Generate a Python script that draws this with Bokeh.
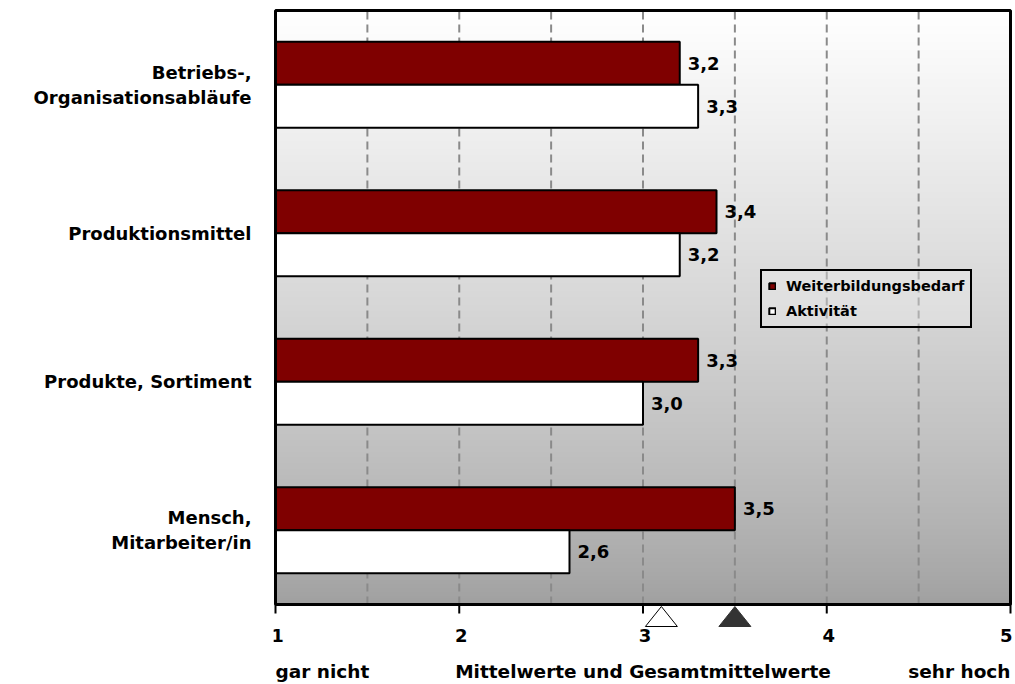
import numpy as np
from bokeh.plotting import figure
from bokeh.models import FixedTicker, Legend, ColumnDataSource, Range1d
from bokeh.core.properties import value
from bokeh.embed import file_html
from bokeh.resources import INLINE

# --- data -------------------------------------------------------------
categories = [
    "Betriebs-,\nOrganisationsabläufe",
    "Produktionsmittel",
    "Produkte, Sortiment",
    "Mensch,\nMitarbeiter/in",
]
weiterbildungsbedarf = [3.2, 3.4, 3.3, 3.5]
aktivitaet = [3.3, 3.2, 3.0, 2.6]
series_names = ["Weiterbildungsbedarf", "Aktivität"]
gesamtmittel_aktivitaet = 3.1
gesamtmittel_bedarf = 3.5
x_ticks = [1, 2, 3, 4, 5]
x_tick_labels = ["1", "2", "3", "4", "5"]
x_grid = [1.5, 2, 2.5, 3, 3.5, 4, 4.5]
x_label_low = "gar nicht"
x_label_high = "sehr hoch"
x_title = "Mittelwerte und Gesamtmittelwerte"

FONT = "DejaVu Sans"
RED = "#7f0000"

n = len(categories)
x0, x1 = x_ticks[0], x_ticks[-1]
centers = [n - 0.5 - i for i in range(n)]
bar_h = 0.29

# pixel scale of the plotting area (735 px across 1..5, 594 px across 0..n)
PX_X = 735 / (x1 - x0)
PX_Y = 594 / n

p = figure(width=1015, height=684, output_backend="svg", toolbar_location=None,
           x_axis_location=None,
           x_range=Range1d(x0 - 2 / PX_X, x1 + 5 / PX_X),
           y_range=Range1d(-80 / PX_Y, n + 2 / PX_Y),
           min_border_left=273, min_border_right=0,
           min_border_top=8, min_border_bottom=0)
p.outline_line_color = None
p.xgrid.visible = False
p.ygrid.visible = False

# vertical gradient background (grey at the bottom, white at the top)
rows = 300
t = np.linspace(0, 1, rows)
shade = (160 + (255 - 160) * (t ** 0.8)).astype(np.uint32)
img = np.empty((rows, 1), dtype=np.uint32)
view = img.view(dtype=np.uint8).reshape((rows, 1, 4))
view[:, 0, 0] = shade
view[:, 0, 1] = shade
view[:, 0, 2] = shade
view[:, 0, 3] = 255
p.image_rgba(image=[img], x=x0, y=0, dw=x1 - x0, dh=n)

# dashed vertical grid lines
p.segment(x0=x_grid, x1=x_grid, y0=[0] * len(x_grid), y1=[n] * len(x_grid),
          line_color="#8a8a8a", line_width=2, line_dash="8 5")

# bars
src_red = ColumnDataSource(dict(
    y=[c + bar_h / 2 for c in centers], right=weiterbildungsbedarf,
    txt=[f"{v:.1f}".replace(".", ",") for v in weiterbildungsbedarf]))
src_white = ColumnDataSource(dict(
    y=[c - bar_h / 2 for c in centers], right=aktivitaet,
    txt=[f"{v:.1f}".replace(".", ",") for v in aktivitaet]))
r_red = p.hbar(y="y", left=x0, right="right", height=bar_h, source=src_red,
               fill_color=RED, line_color="black", line_width=2)
r_white = p.hbar(y="y", left=x0, right="right", height=bar_h, source=src_white,
                 fill_color="white", line_color="black", line_width=2)

for src in (src_red, src_white):
    p.text(x="right", y="y", text="txt", source=src, x_offset=8,
           text_align="left", text_baseline="middle",
           text_font=value(FONT), text_font_style="bold",
           text_font_size="18px", text_color="black")

# plot-area border
p.quad(left=[x0], right=[x1], bottom=[0], top=[n], fill_color=None,
       line_color="black", line_width=3)

# x axis: ticks, tick labels and captions
p.segment(x0=x_ticks, x1=x_ticks, y0=[0] * len(x_ticks),
          y1=[-9 / PX_Y] * len(x_ticks), line_color="black", line_width=2)
p.text(x=x_ticks, y=[-31 / PX_Y] * len(x_ticks), text=x_tick_labels,
       x_offset=2, text_align=["center"] * (len(x_ticks) - 1) + ["right"],
       text_baseline="middle",
       text_font=value(FONT), text_font_style="bold", text_font_size="18px",
       text_color="black")
p.text(x=[x0, (x0 + x1) / 2, x1], y=[-67 / PX_Y] * 3,
       text=[x_label_low, x_title, x_label_high],
       text_align=["left", "center", "right"], text_baseline="middle",
       text_font=value(FONT), text_font_style="bold", text_font_size="18.5px",
       text_color="black")

# overall means as triangles under the axis
half_w = 16 / PX_X
tip, base = -2 / PX_Y, -22 / PX_Y
p.patches(xs=[[m - half_w, m, m + half_w] for m in (gesamtmittel_aktivitaet, gesamtmittel_bedarf)],
          ys=[[base, tip, base]] * 2,
          fill_color=["white", "#333333"], line_color=["black", "#333333"],
          line_width=1)

# category axis
ya = p.yaxis[0]
ya.ticker = FixedTicker(ticks=centers)
ya.major_label_overrides = {c: lab for c, lab in zip(centers, categories)}
ya.axis_line_color = None
ya.major_tick_line_color = None
ya.minor_tick_line_color = None
ya.major_label_standoff = 16
ya.major_label_text_font = FONT
ya.major_label_text_font_style = "bold"
ya.major_label_text_font_size = "18px"
ya.major_label_text_color = "black"

# legend
legend = Legend(items=[(series_names[0], [r_red]), (series_names[1], [r_white])],
                location=(487, 356), glyph_width=8, glyph_height=8,
                label_text_font=FONT, label_text_font_style="bold",
                label_text_font_size="14.5px", label_text_color="black",
                label_standoff=10,
                label_height=18, spacing=7, padding=6, margin=0,
                border_line_color="black", border_line_width=2,
                border_line_alpha=1,
                background_fill_color="#f2f2f2", background_fill_alpha=0.35)
p.add_layout(legend, "center")

open("out.html", "w").write(file_html(p, INLINE))
